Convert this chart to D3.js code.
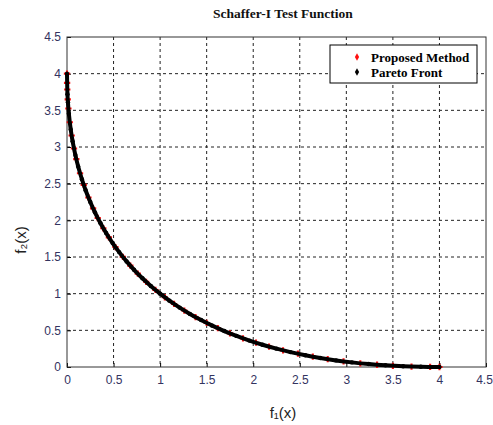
<!DOCTYPE html>
<html>
<head>
  <title>Schaffer-I Test Function</title>
  <script src="https://d3js.org/d3.v7.min.js"></script>
  <style>
    body { margin: 0; padding: 0; background: white; overflow: hidden; }
    svg { display: block; }
  </style>
</head>
<body>
  <svg width="493" height="425"></svg>

  <script>
    // values
    const paretoF1 = [0, 0.005, 0.01, 0.02, 0.04, 0.06, 0.09, 0.12, 0.16, 0.2, 0.25, 0.3, 0.36, 0.42, 0.49, 0.56, 0.64, 0.72, 0.81, 0.9,
                      1.0, 1.1, 1.21, 1.32, 1.44, 1.56, 1.69, 1.82, 1.96, 2.1, 2.25, 2.4, 2.56, 2.72, 2.89, 3.06, 3.24, 3.42, 3.61, 3.8, 4.0];
    const paretoF2 = [4.0, 3.72, 3.61, 3.454, 3.24, 3.08, 2.89, 2.734, 2.56, 2.411, 2.25, 2.109, 1.96, 1.828, 1.69, 1.567, 1.44, 1.326, 1.21, 1.105,
                      1.0, 0.905, 0.81, 0.724, 0.64, 0.564, 0.49, 0.424, 0.36, 0.3035, 0.25, 0.203, 0.16, 0.123, 0.09, 0.063, 0.04, 0.023, 0.01, 0.003, 0.0];

    const proposedF1 = [0, 0.001, 0.003, 0.008, 0.015, 0.03, 0.05, 0.075, 0.1, 0.14, 0.18, 0.23, 0.28, 0.33, 0.39, 0.45, 0.52, 0.6, 0.68, 0.76, 0.85,
                        0.95, 1.05, 1.15, 1.26, 1.38, 1.5, 1.62, 1.75, 1.89, 2.03, 2.17, 2.32, 2.48, 2.64, 2.8, 2.97, 3.15, 3.33, 3.5, 3.7, 3.9, 4.0];
    const proposedF2 = [4.0, 3.875, 3.784, 3.65, 3.525, 3.337, 3.156, 2.98, 2.835, 2.643, 2.483, 2.312, 2.163, 2.032, 1.892, 1.767, 1.636, 1.502, 1.382, 1.273, 1.162,
                        1.051, 0.951, 0.86, 0.77, 0.681, 0.601, 0.529, 0.458, 0.391, 0.331, 0.278, 0.227, 0.181, 0.141, 0.107, 0.0765, 0.0507, 0.0307, 0.0167, 0.0059, 0.0006, 0.0];

    const xTicks = [0, 0.5, 1, 1.5, 2, 2.5, 3, 3.5, 4, 4.5];
    const yTicks = [0, 0.5, 1, 1.5, 2, 2.5, 3, 3.5, 4, 4.5];
    const legendLabels = ["Proposed Method", "Pareto Front"];

    const pareto = paretoF1.map((v, i) => ({ f1: v, f2: paretoF2[i] }));
    const proposed = proposedF1.map((v, i) => ({ f1: v, f2: proposedF2[i] }));

    const svg = d3.select("svg"),
          margin = { top: 37, right: 7, bottom: 58, left: 67 },
          width = +svg.attr("width") - margin.left - margin.right,
          height = +svg.attr("height") - margin.top - margin.bottom,
          g = svg.append("g").attr("transform", "translate(" + margin.left + "," + margin.top + ")");

    const x = d3.scaleLinear().domain([0, 4.5]).range([0, width]);
    const y = d3.scaleLinear().domain([0, 4.5]).range([height, 0]);

    const tickColor = "#33335f";

    // grid
    g.append("g")
      .selectAll("line")
      .data(xTicks.slice(1, -1))
      .enter().append("line")
        .attr("x1", d => x(d)).attr("x2", d => x(d))
        .attr("y1", 0).attr("y2", height)
        .attr("stroke", "#222").attr("stroke-width", 1)
        .attr("stroke-dasharray", "3,3");

    g.append("g")
      .selectAll("line")
      .data(yTicks.slice(1, -1))
      .enter().append("line")
        .attr("x1", 0).attr("x2", width)
        .attr("y1", d => y(d)).attr("y2", d => y(d))
        .attr("stroke", "#222").attr("stroke-width", 1)
        .attr("stroke-dasharray", "3,3");

    // axes
    const xAxis = g.append("g")
        .attr("transform", "translate(0," + height + ")")
        .call(d3.axisBottom(x).tickValues(xTicks).tickSize(-4).tickPadding(8).tickFormat(d3.format("")));
    const yAxis = g.append("g")
        .call(d3.axisLeft(y).tickValues(yTicks).tickSize(-4).tickPadding(6).tickFormat(d3.format("")));

    [xAxis, yAxis].forEach(a => {
      a.select(".domain").remove();
      a.selectAll("line").attr("stroke", "#000");
      a.selectAll("text")
        .attr("font-family", "Arial, 'Liberation Sans', sans-serif")
        .attr("font-size", "12px")
        .attr("fill", tickColor);
    });
    // last x label sits against the window edge
    xAxis.selectAll(".tick text").filter(d => d === 4.5).attr("dx", "-2px");

    // box
    g.append("rect")
      .attr("x", 0).attr("y", 0)
      .attr("width", width).attr("height", height)
      .attr("fill", "none")
      .attr("stroke", "#333").attr("stroke-width", 1);

    // proposed method points (red)
    const star = d3.symbol().type(d3.symbolCross).size(22);
    g.selectAll(".prop")
      .data(proposed)
      .enter().append("path")
        .attr("class", "prop")
        .attr("d", star)
        .attr("transform", d => "translate(" + x(d.f1) + "," + y(d.f2) + ")")
        .attr("fill", "#ff1010");

    // pareto front (black)
    g.append("path")
      .datum(pareto)
      .attr("fill", "none")
      .attr("stroke", "#000")
      .attr("stroke-width", 4)
      .attr("d", d3.line().x(d => x(d.f1)).y(d => y(d.f2)).curve(d3.curveCatmullRom));

    g.selectAll(".pf")
      .data(pareto)
      .enter().append("circle")
        .attr("class", "pf")
        .attr("cx", d => x(d.f1))
        .attr("cy", d => y(d.f2))
        .attr("r", 2.2)
        .attr("fill", "#000");

    // legend
    const legend = svg.append("g").attr("transform", "translate(330,45)");
    legend.append("rect")
      .attr("width", 147).attr("height", 38)
      .attr("fill", "white").attr("stroke", "#000").attr("stroke-width", 1);
    const legendColors = ["#ff1010", "#000"];
    legendLabels.forEach((t, i) => {
      legend.append("path")
        .attr("d", d3.symbol().type(d3.symbolDiamond).size(16))
        .attr("transform", "translate(27," + (12 + i * 15) + ")")
        .attr("fill", legendColors[i]);
      legend.append("text")
        .attr("x", 41).attr("y", 17 + i * 15)
        .attr("font-family", "'Liberation Serif', 'Times New Roman', serif")
        .attr("font-weight", "bold")
        .attr("font-size", "13px")
        .attr("fill", "#000")
        .text(t);
    });

    // title
    svg.append("text")
      .attr("x", 283).attr("y", 18)
      .attr("text-anchor", "middle")
      .attr("font-family", "'Liberation Serif', 'Times New Roman', serif")
      .attr("font-weight", "bold")
      .attr("font-size", "13.5px")
      .attr("fill", "#111")
      .text("Schaffer-I Test Function");

    // axis labels
    svg.append("text")
      .attr("x", 283).attr("y", 418)
      .attr("text-anchor", "middle")
      .attr("font-family", "Arial, 'Liberation Sans', sans-serif")
      .attr("font-size", "15px")
      .attr("fill", "#222")
      .text("f\u2081(x)");

    svg.append("text")
      .attr("transform", "translate(26,240) rotate(-90)")
      .attr("text-anchor", "middle")
      .attr("font-family", "Arial, 'Liberation Sans', sans-serif")
      .attr("font-size", "15px")
      .attr("fill", "#222")
      .text("f\u2082(x)");
  </script>
</body>
</html>
